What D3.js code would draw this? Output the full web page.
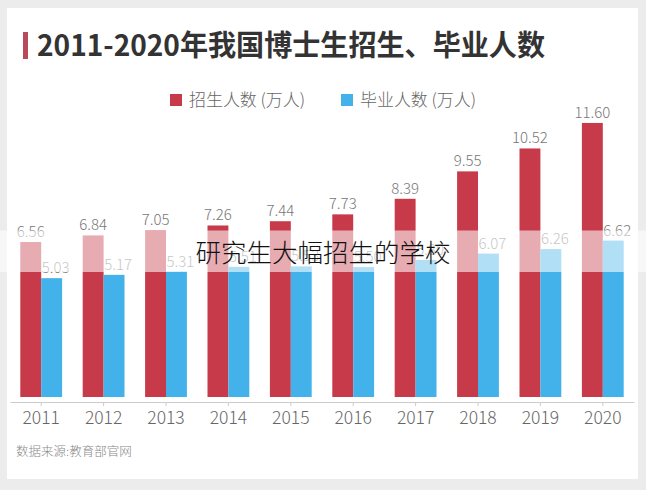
<!DOCTYPE html>
<html><head><meta charset="utf-8">
<script src="https://cdn.jsdelivr.net/npm/d3@7"></script>
<style>
html,body{margin:0;padding:0;background:#ececec;}
svg{display:block;font-family:"Noto Sans CJK SC","Noto Sans",sans-serif;}
</style></head>
<body>
<svg id="c" width="646" height="490"></svg>
<script>
const years = ["2011","2012","2013","2014","2015","2016","2017","2018","2019","2020"];
const enrolled = [6.56,6.84,7.05,7.26,7.44,7.73,8.39,9.55,10.52,11.60];
const graduated = [5.03,5.17,5.31,5.51,5.53,5.50,5.80,6.07,6.26,6.62];
const seriesNames = ["招生人数 (万人)","毕业人数 (万人)"];
const colors = ["#c73a49","#44b2ea"];
const title = "2011-2020年我国博士生招生、毕业人数";
const source = "数据来源:教育部官网";
const watermark = "研究生大幅招生的学校";

const svg = d3.select("#c");
svg.append("rect").attr("x",7).attr("y",8).attr("width",631).attr("height",471).attr("fill","#fff");

// title
svg.append("rect").attr("x",23).attr("y",32).attr("width",5).attr("height",27).attr("fill","#b84a5a");
svg.append("text").attr("x",37).attr("y",56).attr("font-size",29).attr("font-weight",700)
  .attr("fill","#333").attr("textLength",508).attr("lengthAdjust","spacingAndGlyphs").text(title);

// legend
const legX = [170,341];
seriesNames.forEach((n,i)=>{
  svg.append("rect").attr("x",legX[i]).attr("y",94).attr("width",12).attr("height",12).attr("fill",colors[i]);
  svg.append("text").attr("x",legX[i]+19).attr("y",106).attr("font-size",17).attr("font-weight",300)
    .attr("fill","#666").attr("textLength",116).attr("lengthAdjust","spacing").text(n);
});

const x = d3.scaleBand().domain(years).range([10,634]).paddingInner(0.33).paddingOuter(0.165);
const xs = d3.scaleBand().domain([0,1]).range([0,x.bandwidth()]);
const y = d3.scaleLinear().domain([0,12]).range([397,113.5]);

const data = years.map((yr,i)=>({yr, vals:[enrolled[i],graduated[i]]}));
const g = svg.append("g");
const grp = g.selectAll("g.grp").data(data).join("g").attr("transform",d=>`translate(${x(d.yr)},0)`);
grp.selectAll("rect").data(d=>d.vals.map((v,i)=>({v,i}))).join("rect")
  .attr("x",d=>xs(d.i)).attr("width",xs.bandwidth())
  .attr("y",d=>y(d.v)).attr("height",d=>y(0)-y(d.v)).attr("fill",d=>colors[d.i]);
grp.selectAll("text").data(d=>d.vals.map((v,i)=>({v,i}))).join("text")
  .attr("x",d=>xs(d.i)+xs.bandwidth()/2+(d.i===1?4:0)).attr("y",d=>y(d.v)-5)
  .attr("text-anchor","middle").attr("font-size",15).attr("font-weight",300).attr("fill","#777")
  .text(d=>d.v.toFixed(2));

// axis
const ax = svg.append("g").attr("transform","translate(0,402)")
  .call(d3.axisBottom(x).tickSize(4).tickSizeOuter(0).tickPadding(6));
ax.select(".domain").attr("stroke","#ccc");
ax.selectAll(".tick line").attr("stroke","#ccc");
ax.selectAll(".tick text").attr("font-size",17.5).attr("font-weight",300).attr("fill","#666")
  .attr("font-family","'Noto Sans CJK SC','Noto Sans',sans-serif");

// source
svg.append("text").attr("x",16).attr("y",456).attr("font-size",12.5).attr("font-weight",300).attr("fill","#888").text(source);

// watermark band
svg.append("rect").attr("x",0).attr("y",230.5).attr("width",646).attr("height",41.5).attr("fill","#fff").attr("opacity",0.58);
svg.append("text").attr("x",323).attr("y",262).attr("text-anchor","middle").attr("font-size",25.5)
  .attr("font-weight",300).attr("fill","#111").text(watermark);
</script>
</body></html>
